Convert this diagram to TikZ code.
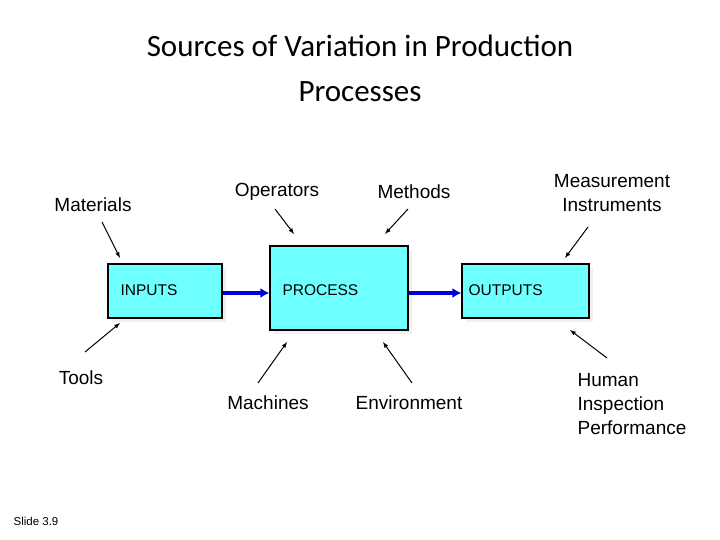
\documentclass[tikz,border=0pt]{standalone}
\usepackage{fontspec}
\usetikzlibrary{arrows.meta}
\setmainfont{Liberation Sans}
\newfontfamily\ttl{Carlito}
\definecolor{boxc}{RGB}{110,255,255}
\begin{document}
\begin{tikzpicture}[x=1pt,y=-1pt,
  box/.style={draw=black,line width=1.2pt,fill=boxc,inner sep=0pt},
  shd/.style={fill=black!6,draw=none},
  lab/.style={font=\fontsize{19}{24}\selectfont,align=center},
  bl/.style={font=\fontsize{15.5}{18}\selectfont,anchor=west},
  arr/.style={-latex,line width=1pt},
  big/.style={-{Latex[length=9pt,width=10pt]},draw=blue!85!black,line width=3.5pt}]
\useasboundingbox (0,0) rectangle (720,540);
\node[font=\ttl\fontsize{31}{45}\selectfont,align=center] (t) at (360,68) {Sources of Variation in Production\\Processes};
% shadows
\fill[shd] (112,268) rectangle (226,322);
\fill[shd] (274,250) rectangle (412,334);
\fill[shd] (466,268) rectangle (593,322);
\node[box,minimum width=114,minimum height=54] (in) at (165,291) {};
\node[box,minimum width=138,minimum height=84] (pr) at (339,288) {};
\node[box,minimum width=127,minimum height=54] (out) at (525.5,291) {};
\node[bl] (tin) at (117,290) {INPUTS};
\node[bl] (tpr) at (279,290) {PROCESS};
\node[bl] (tout) at (465,290) {OUTPUTS};
\draw[big] (in.east |- 0,293) -- (pr.west |- 0,293);
\draw[big] (pr.east |- 0,293) -- (out.west |- 0,293);
\node[lab] (mat) at (93,205) {Materials};
\node[lab] (tools) at (81,378) {Tools};
\node[lab] (ops) at (277,192) {Operators};
\node[lab] (meth) at (414,192) {Methods};
\node[lab] (meas) at (612,193) {Measurement\\Instruments};
\node[lab] (mach) at (268,403) {Machines};
\node[lab] (env) at (409,403) {Environment};
\node[lab,align=left] (hum) at (632,404) {Human\\Inspection\\Performance};
\node[font=\fontsize{11.5}{13}\selectfont] (sl) at (36,521) {Slide 3.9};
\coordinate (a1) at (102,222); \coordinate (b1) at (120,258);
\coordinate (a2) at (85,352); \coordinate (b2) at (120,323);
\coordinate (a3) at (275,209); \coordinate (b3) at (294,234);
\coordinate (a4) at (408,209); \coordinate (b4) at (385,234);
\coordinate (a5) at (588,227); \coordinate (b5) at (565,258);
\coordinate (a6) at (258,383); \coordinate (b6) at (287,342);
\coordinate (a7) at (412,383); \coordinate (b7) at (383,342);
\coordinate (a8) at (607,358); \coordinate (b8) at (570,330);
\foreach \i in {1,...,8} \draw[arr] (a\i) -- (b\i);
\end{tikzpicture}
\end{document}
